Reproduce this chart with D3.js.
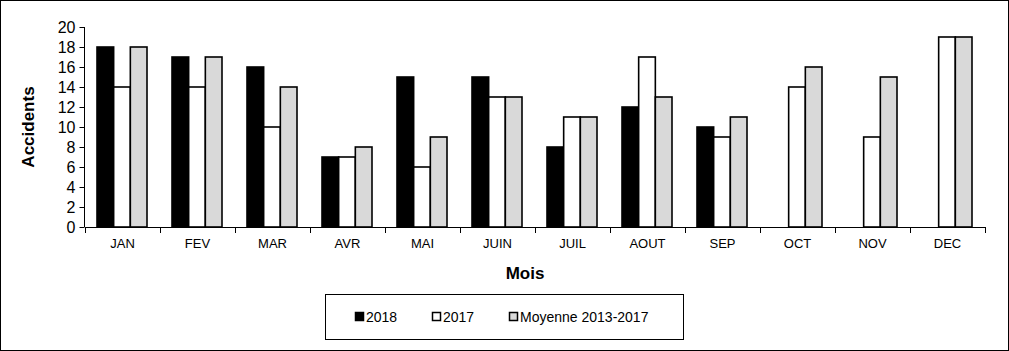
<!DOCTYPE html>
<html>
    <head>
        <title>Accidents par mois</title>
        <script src="https://d3js.org/d3.v7.min.js"></script>
        <style>
            body { margin: 0; }
            text { font-family: Arial, "Liberation Sans", sans-serif; }
        </style>
    </head>
    <body>
        <svg width="1009" height="351" id="mainSvg"></svg>
        <script>
            const months = ["JAN", "FEV", "MAR", "AVR", "MAI", "JUIN", "JUIL", "AOUT", "SEP", "OCT", "NOV", "DEC"]
            const series = ["2018", "2017", "Moyenne 2013-2017"]
            const values2018 = [18, 17, 16, 7, 15, 15, 8, 12, 10, null, null, null]
            const values2017 = [14, 14, 10, 7, 6, 13, 11, 17, 9, 14, 9, 19]
            const valuesMoyenne = [18, 17, 14, 8, 9, 13, 11, 13, 11, 16, 15, 19]
            const yTicks = [0, 2, 4, 6, 8, 10, 12, 14, 16, 18, 20]

            const colors = {"2018": "#000000", "2017": "#ffffff", "Moyenne 2013-2017": "#d9d9d9"}

            const rows = months.map((m, i) => ({
                month: m,
                vals: [values2018[i], values2017[i], valuesMoyenne[i]]
            }))

            const svg = d3.select("#mainSvg")

            // cadre extérieur
            svg.append("rect")
                .attr("x", 0.5).attr("y", 0.5)
                .attr("width", 1008).attr("height", 350)
                .attr("fill", "white").attr("stroke", "black")

            const x = d3.scaleBand().domain(months).range([85, 985]).paddingInner(0).paddingOuter(0)
            const xSub = d3.scaleBand().domain(series).range([12, 62]).padding(0)
            const y = d3.scaleLinear().domain([0, 20]).range([227, 27])

            // barres
            const groups = svg.selectAll(".grp").data(rows).enter().append("g")
                .attr("class", "grp")
                .attr("transform", d => `translate(${x(d.month)},0)`)

            groups.selectAll("rect")
                .data(d => d.vals.map((v, i) => ({key: series[i], value: v})).filter(e => e.value !== null))
                .enter().append("rect")
                .attr("x", d => xSub(d.key))
                .attr("width", xSub.bandwidth())
                .attr("y", d => y(d.value))
                .attr("height", d => y(0) - y(d.value))
                .attr("fill", d => colors[d.key])
                .attr("stroke", "black")
                .attr("stroke-width", 1.6)

            // axe Y
            const yAxis = d3.axisLeft(y).tickValues(yTicks).tickSize(5).tickPadding(4)
            const gy = svg.append("g").attr("transform", "translate(84.5,0)").call(yAxis)
            gy.select(".domain").attr("stroke", "black").attr("d", `M0,${y(20)}V${y(0)}`)
            gy.selectAll(".tick text").attr("font-size", 16).attr("font-family", "Arial, 'Liberation Sans', sans-serif").attr("fill", "black")

            // axe X
            const gx = svg.append("g")
            gx.append("line")
                .attr("x1", x.range()[0]).attr("x2", x.range()[1])
                .attr("y1", y(0) + 0.5).attr("y2", y(0) + 0.5)
                .attr("stroke", "black")
            gx.selectAll(".xtick").data(months.map(m => x(m)).concat([x.range()[1]])).enter().append("line")
                .attr("x1", d => d + 0.5).attr("x2", d => d + 0.5)
                .attr("y1", y(0)).attr("y2", y(0) + 6)
                .attr("stroke", "black")
            gx.selectAll(".xlab").data(months).enter().append("text")
                .attr("x", d => x(d) + x.bandwidth() / 2)
                .attr("y", 248)
                .attr("text-anchor", "middle")
                .attr("font-size", 13)
                .text(d => d)

            // titres des axes
            svg.append("text")
                .text("Mois")
                .attr("x", 525).attr("y", 279)
                .attr("text-anchor", "middle")
                .attr("font-size", 17).attr("font-weight", "bold")

            svg.append("text")
                .text("Accidents")
                .attr("transform", "translate(34,127) rotate(-90)")
                .attr("text-anchor", "middle")
                .attr("font-size", 17).attr("font-weight", "bold")

            // légende
            svg.append("rect")
                .attr("x", 325.5).attr("y", 294.5)
                .attr("width", 358).attr("height", 45)
                .attr("fill", "white").attr("stroke", "black")

            const legendX = [355, 432, 509]
            const leg = svg.selectAll(".leg").data(series).enter().append("g")
                .attr("class", "leg")
                .attr("transform", (d, i) => `translate(${legendX[i]},317)`)
            leg.append("rect")
                .attr("x", 0.5).attr("y", -4.5)
                .attr("width", 8).attr("height", 8)
                .attr("fill", d => colors[d])
                .attr("stroke", "black").attr("stroke-width", 1.5)
            leg.append("text")
                .attr("x", 11).attr("y", 5)
                .attr("font-size", 14)
                .text(d => d)
        </script>
    </body>
</html>
